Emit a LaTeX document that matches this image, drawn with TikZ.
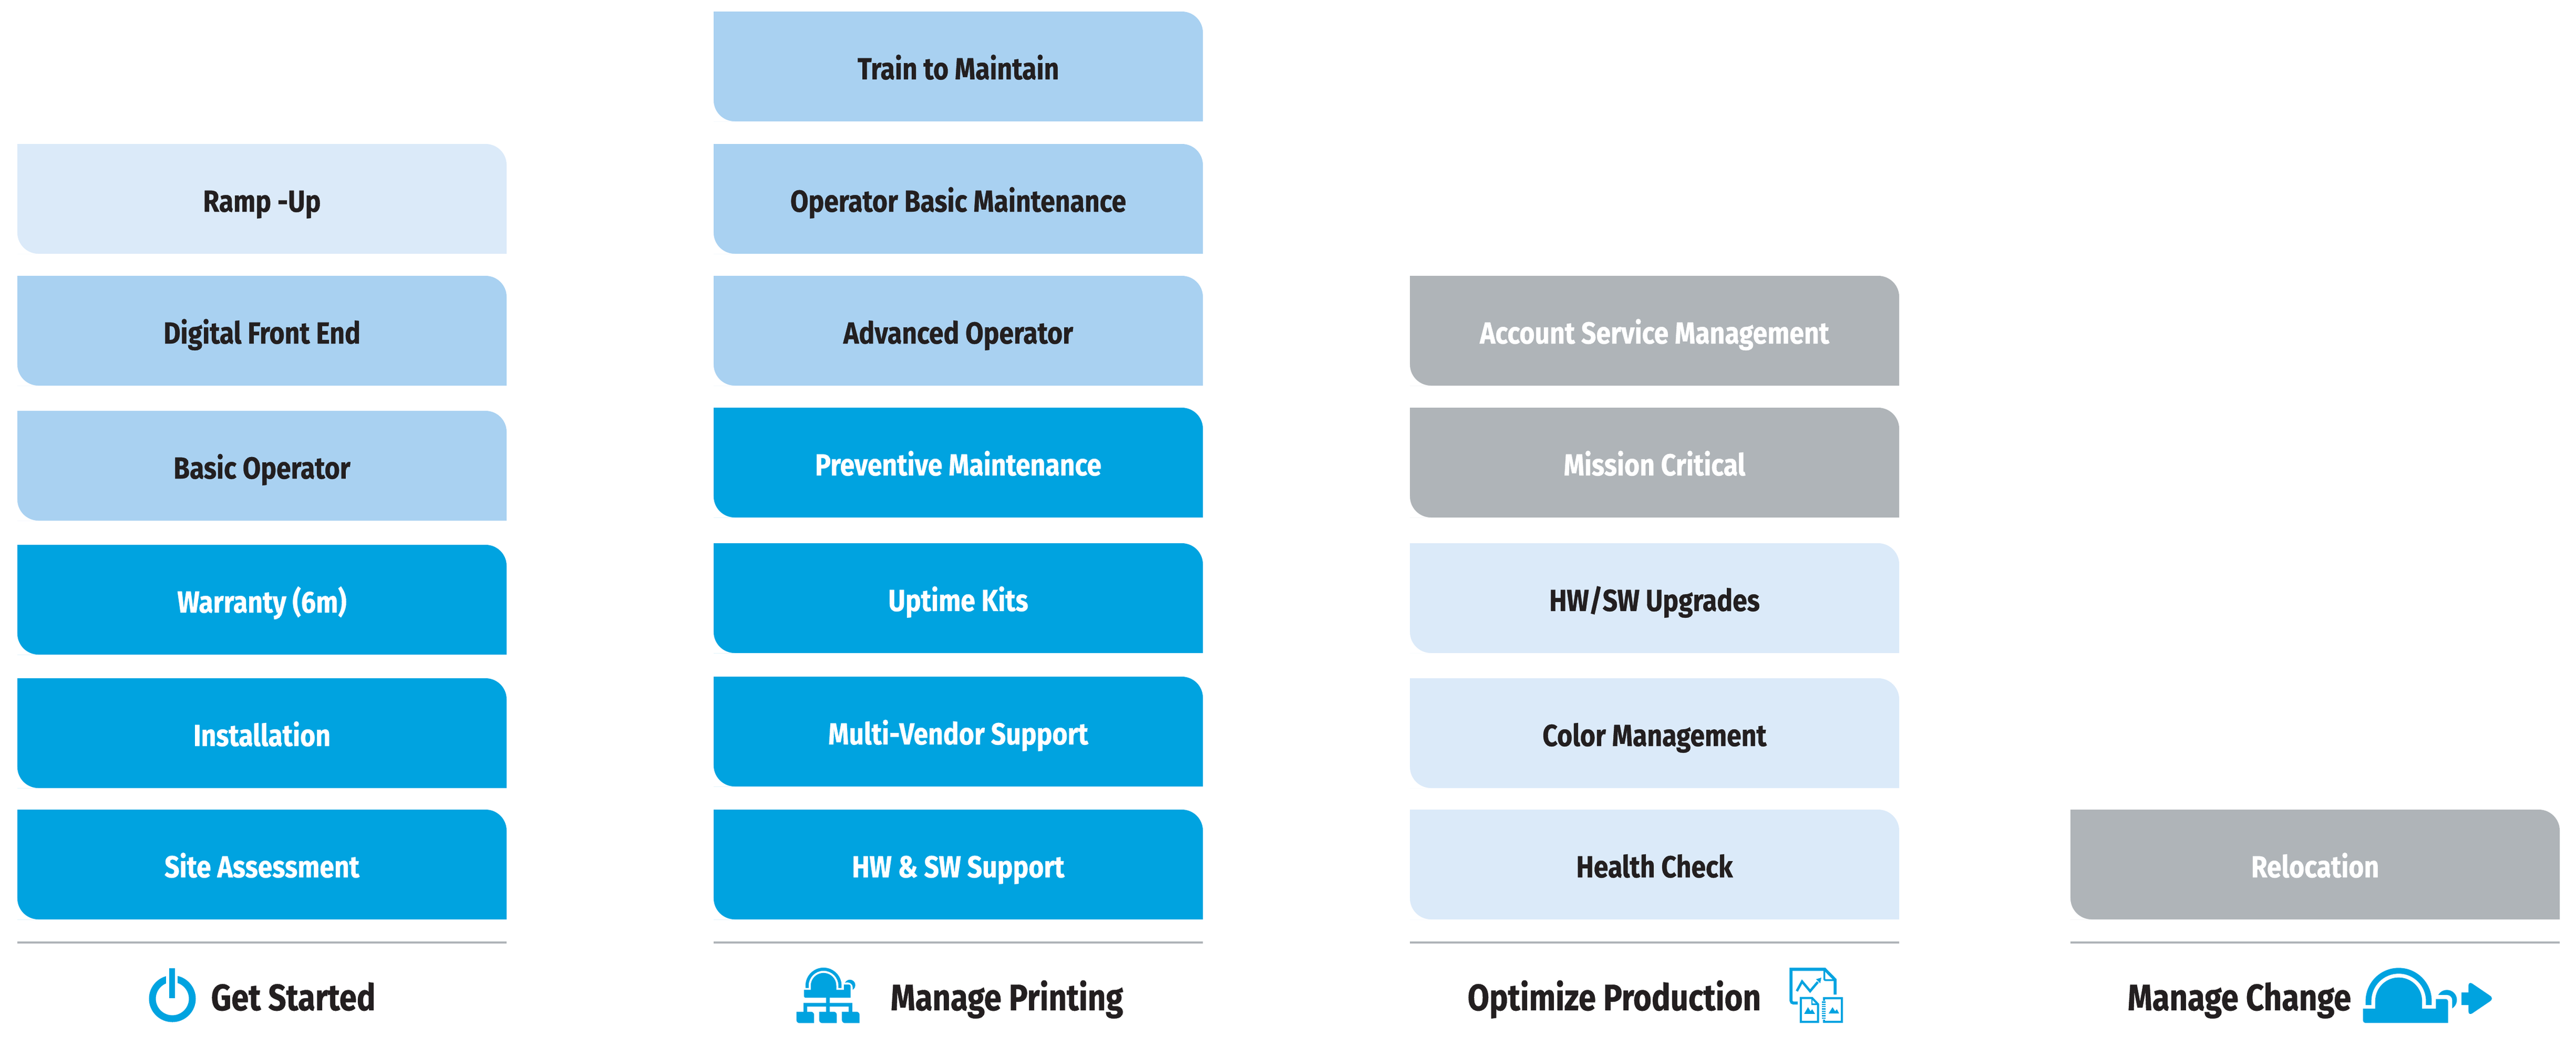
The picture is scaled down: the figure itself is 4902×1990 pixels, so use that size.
\documentclass[tikz,border=0pt]{standalone}
\usepackage{fontspec}
\setmainfont{Fira Sans}
\newfontfamily\lblfont[FakeStretch=0.86,BoldFeatures={FakeBold=0.6}]{Fira Sans}
\newfontfamily\headfont[FakeStretch=0.85,BoldFeatures={FakeBold=0.6}]{Fira Sans}
\usetikzlibrary{calc}
\definecolor{hpblue}{HTML}{00A3E0}
\definecolor{hpmid}{HTML}{A9D1F1}
\definecolor{hplight}{HTML}{DBEAF9}
\definecolor{hpgrey}{HTML}{AFB4B8}
\definecolor{hpink}{HTML}{231F20}
\tikzset{
  boxlabel/.style={inner sep=0pt,anchor=base,font=\lblfont\bfseries\fontsize{16.5}{18}\selectfont},
  headlabel/.style={inner sep=0pt,anchor=base west,text=hpink,font=\headfont\bfseries\fontsize{20}{22}\selectfont},
  rulestyle/.style={draw=hpgrey,line width=0.045cm},
}
% name, left, top, fill, text colour, text
\newcommand{\svcbox}[6]{%
  \fill[#4] (#2,#3) -- ++(891,0) arc[start angle=90,end angle=0,radius=0.4cm]
    -- ++(0,169) -- ++(-891,0) -- ++(-40,0) -- cycle;
  \fill[white] (#2,#3+169) -- ++(0,40) -- ++(40,0) arc[start angle=270,end angle=180,radius=0.4cm] -- cycle;
  \node[boxlabel,text=#5] (#1) at ($(#2,#3)+(465.5,129)$) {#6};
}
\newcommand{\domeicon}{%
  \fill[hpblue] (276,-6) circle[radius=57];
  \fill[white,rounded corners=0.1cm] (190,-34) -- (306,-34) -- (306,135) -- (190,135) -- cycle;
  \fill[hpblue] (-189,24) -- (-189,0) arc[start angle=180,end angle=360,radius=189]
    -- (189,24) -- (156,24) -- (156,0) arc[start angle=360,end angle=180,radius=156]
    -- (-156,24) -- cycle;
  \fill[hpblue] (-134,44) -- (-134,0) arc[start angle=180,end angle=360,radius=134]
    -- (134,44) -- (213,44) -- (213,-11) -- (269,-11)
    arc[start angle=270,end angle=360,radius=14] -- (283,126) -- (-190,126)
    arc[start angle=90,end angle=180,radius=14] -- (-204,44) -- cycle;
}
\newcommand{\leafbox}[1]{%
  \fill[hpblue] (#1,438) -- (#1+83,438) arc[start angle=270,end angle=360,radius=18]
    -- (#1+101,503) -- (#1+18,503) arc[start angle=90,end angle=180,radius=18] -- cycle;
}
\begin{document}
\begin{tikzpicture}[x=0.01cm,y=-0.01cm]
\useasboundingbox (0,0) rectangle (4902,1990);
\fill[white] (0,0) rectangle (4902,1990);
% column 1
\svcbox{rampup}{33}{274}{hplight}{hpink}{Ramp -Up}
\svcbox{dfe}{33}{525}{hpmid}{hpink}{Digital Front End}
\svcbox{basicop}{33}{782}{hpmid}{hpink}{Basic Operator}
\svcbox{warranty}{33}{1037}{hpblue}{white}{Warranty (6m)}
\svcbox{install}{33}{1291}{hpblue}{white}{Installation}
\svcbox{site}{33}{1541}{hpblue}{white}{Site Assessment}
% column 2
\svcbox{train}{1358}{22}{hpmid}{hpink}{Train to Maintain}
\svcbox{opbasic}{1358}{274}{hpmid}{hpink}{Operator Basic Maintenance}
\svcbox{advop}{1358}{525}{hpmid}{hpink}{Advanced Operator}
\svcbox{prevent}{1358}{776}{hpblue}{white}{Preventive Maintenance}
\svcbox{uptime}{1358}{1034}{hpblue}{white}{Uptime Kits}
\svcbox{multi}{1358}{1288}{hpblue}{white}{Multi-Vendor Support}
\svcbox{hwsw}{1358}{1541}{hpblue}{white}{HW \& SW Support}
% column 3
\svcbox{account}{2683}{525}{hpgrey}{white}{Account Service Management}
\svcbox{mission}{2683}{776}{hpgrey}{white}{Mission Critical}
\svcbox{upgrades}{2683}{1034}{hplight}{hpink}{HW/SW Upgrades}
\svcbox{color}{2683}{1291}{hplight}{hpink}{Color Management}
\svcbox{health}{2683}{1541}{hplight}{hpink}{Health Check}
% column 4
\svcbox{reloc}{3940}{1541}{hpgrey}{white}{Relocation}
% rules
\draw[rulestyle] (33,1794) -- (964,1794);
\draw[rulestyle] (1358,1794) -- (2289,1794);
\draw[rulestyle] (2683,1794) -- (3614,1794);
\draw[rulestyle] (3940,1794) -- (4871,1794);
% headings
\node[headlabel] (getstarted) at (401,1923) {Get Started};
\node[headlabel] (manageprint) at (1694,1923) {Manage Printing};
\node[headlabel] (optimize) at (2792,1923) {Optimize Production};
\node[headlabel] (managechange) at (4048,1923) {Manage Change};
% power icon
\draw[hpblue,line width=0.13cm] (328,1901) circle[radius=38];
\fill[white] (316,1840) rectangle (338,1900);
\fill[hpblue] (322,1843) rectangle (333,1900);
% manage printing icon
\begin{scope}[shift={(1450,1780)},x=0.0033333cm,y=-0.0033333cm]
  \begin{scope}[shift={(352,289)},x=0.0018116cm,y=-0.0018116cm]
    \domeicon
  \end{scope}
  \fill[hpblue] (367,355) rectangle (388,440);
  \fill[hpblue] (237,388) rectangle (518,408);
  \fill[hpblue] (237,388) rectangle (258,440);
  \fill[hpblue] (497,388) rectangle (518,440);
  \leafbox{197}\leafbox{327}\leafbox{457}
\end{scope}
% optimize production icon
\begin{scope}[shift={(3360,1800)},x=0.0033333cm,y=-0.0033333cm]
  \draw[hpblue,line width=0.056cm,line join=miter] (183,328) -- (158,328)
     arc[start angle=90,end angle=180,radius=13] -- (145,135) -- (338,135) -- (397,195) -- (397,280);
  \draw[hpblue,line width=0.035cm] (335,140) -- (335,190) arc[start angle=180,end angle=90,radius=7] -- (397,197);
  \draw[hpblue,line width=0.046cm] (178,260) -- (208,205) -- (254,260) -- (298,208);
  \fill[hpblue] (288,192) -- (318,183) -- (312,215) -- cycle;
  % left page
  \draw[hpblue,line width=0.04cm] (201,299) -- (265,299) -- (299,335) -- (299,436) -- (201,436) -- cycle;
  \draw[hpblue,line width=0.025cm] (265,299) -- (265,335) -- (299,335);
  \fill[hpblue] (220,390) -- (242,352) -- (256,375) -- (266,364) -- (282,390) -- cycle;
  % right page
  \draw[hpblue,line width=0.04cm] (334,316) -- (334,299) -- (437,299) -- (437,436) -- (334,436) -- (334,424);
  \foreach \r in {323,336,349,362,375,388,401,414}
    \draw[hpblue,line width=0.022cm] (320,\r) -- (342,\r);
  \fill[hpblue] (360,388) -- (382,352) -- (397,375) -- (407,364) -- (420,388) -- cycle;
\end{scope}
% manage change icon
\begin{scope}[shift={(4460,1810)},x=0.0033333cm,y=-0.0033333cm]
  \begin{scope}[shift={(314,286)},x=0.0033333cm,y=-0.0033333cm]
    \domeicon
  \end{scope}
  \fill[hpblue] (672,236) rectangle (720,310);
  \fill[hpblue,rounded corners=0.09cm] (713,172) -- (860,272) -- (713,372) -- cycle;
\end{scope}
\end{tikzpicture}
\end{document}
